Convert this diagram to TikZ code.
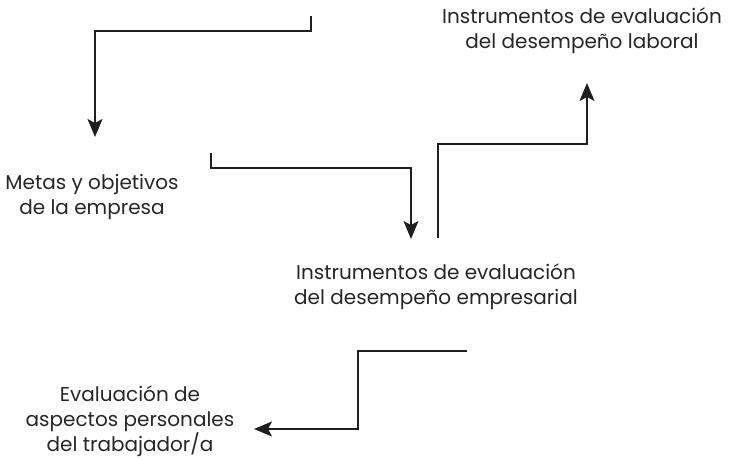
\documentclass[tikz,border=0pt]{standalone}
\usepackage{fontspec}
\setmainfont{Poppins}
\usetikzlibrary{arrows.meta}
\begin{document}
\begin{tikzpicture}[x=1pt,y=-1pt,
  lbl/.style={align=center,font=\fontsize{20}{25}\selectfont,text=black!85,inner sep=0pt},
  conn/.style={line width=1.6pt,draw=black!88,-{Stealth[length=18pt,width=15pt,inset=4pt]}}]
\useasboundingbox (0,0) rectangle (729,460);
\node[lbl] (lab) at (582,31) {Instrumentos de evaluación\\del desempeño laboral};
\node[lbl] (met) at (92,197) {Metas y objetivos\\de la empresa};
\node[lbl] (emp) at (436,287) {Instrumentos de evaluación\\del desempeño empresarial};
\node[lbl] (per) at (130,421) {Evaluación de\\aspectos personales\\del trabajador/a};
\coordinate (a0) at (311,16);
\coordinate (a1) at (95,137);
\coordinate (b0) at (211,153);
\coordinate (b1) at (411,239);
\coordinate (c0) at (438,238);
\coordinate (c1) at (587,83);
\coordinate (d0) at (467,351);
\coordinate (d1) at (254,429);
\draw[conn] (a0) |- (95,31) -- (a1);
\draw[conn] (b0) |- (411,168) -- (b1);
\draw[conn] (c0) |- (587,144) -- (c1);
\draw[conn] (d0) -- (358,351) |- (d1);
\end{tikzpicture}
\end{document}
